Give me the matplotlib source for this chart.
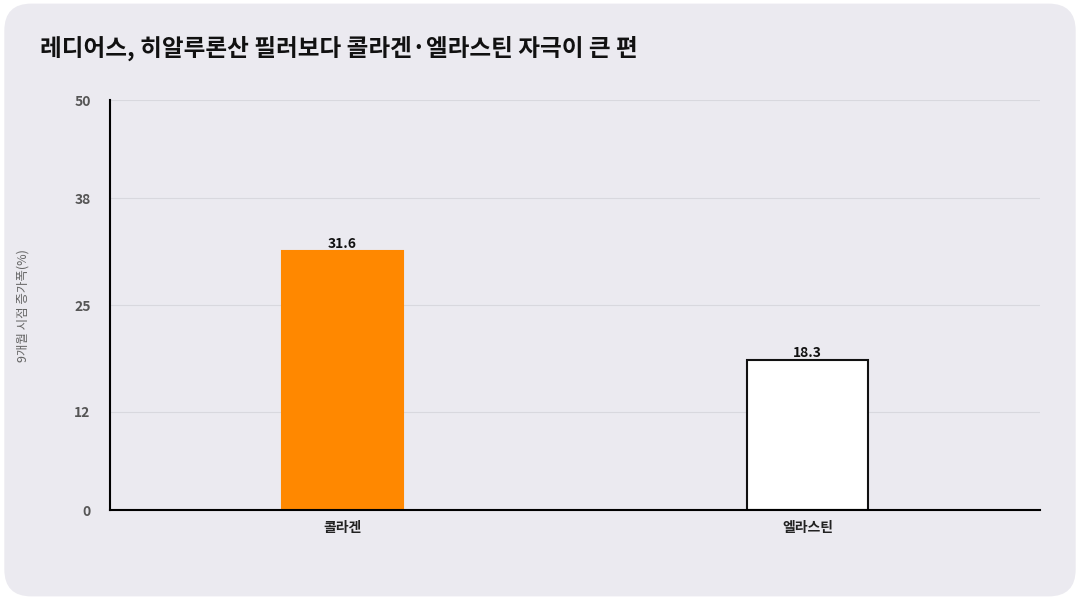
import matplotlib.pyplot as plt
from matplotlib.patches import FancyBboxPatch

plt.rcParams['font.family'] = ['Noto Sans CJK KR', 'DejaVu Sans']

categories = ['콜라겐', '엘라스틴']
values = [31.6, 18.3]
face_colors = ['#ff8800', '#ffffff']
edge_colors = ['#ff8800', '#111111']
yticks = [0, 12, 25, 38, 50]

fig = plt.figure(figsize=(10.8, 6.0), dpi=100)
fig.patch.set_facecolor('white')
bg = FancyBboxPatch((0.004, 0.006), 0.992, 0.988, boxstyle='round,pad=0,rounding_size=0.025',
                    transform=fig.transFigure, facecolor='#ebeaf0', edgecolor='none',
                    mutation_aspect=1.8, zorder=-10)
fig.patches.append(bg)

ax = fig.add_axes([0.1019, 0.15, 0.861, 0.6833])
ax.set_facecolor('#ebeaf0')
x = range(len(categories))
bars = ax.bar(x, values, width=0.26, color=face_colors, edgecolor=edge_colors, linewidth=1.5)
for xi, v in zip(x, values):
    ax.text(xi, v, f'{v}', ha='center', va='bottom', fontsize=10, fontweight='bold', color='#111111')

ax.set_xlim(-0.5, 1.5)
ax.set_ylim(0, 50)
ax.set_yticks(yticks)
ax.set_xticks(list(x))
ax.set_xticklabels(categories, fontsize=10, fontweight='bold', color='#222222')
ax.tick_params(axis='y', length=0, labelsize=10, labelcolor='#555555', pad=14)
ax.tick_params(axis='x', length=0, pad=8)
for lab in ax.get_yticklabels():
    lab.set_fontweight('bold')
ax.grid(axis='y', color='#d8d8de', linewidth=0.8)
ax.set_axisbelow(True)
for s in ['top', 'right']:
    ax.spines[s].set_visible(False)
ax.spines['left'].set_linewidth(1.5)
ax.spines['bottom'].set_linewidth(1.5)

fig.text(0.021, 0.49, '9개월 시점 증가폭(%)', fontsize=9, color='#666666',
         rotation=90, ha='center', va='center')
fig.text(0.037, 0.92, '레디어스, 히알루론산 필러보다 콜라겐·엘라스틴 자극이 큰 편',
         fontsize=17, fontweight='bold', color='#111111', va='center')

fig.savefig('out.png', dpi=100, facecolor=fig.get_facecolor())
